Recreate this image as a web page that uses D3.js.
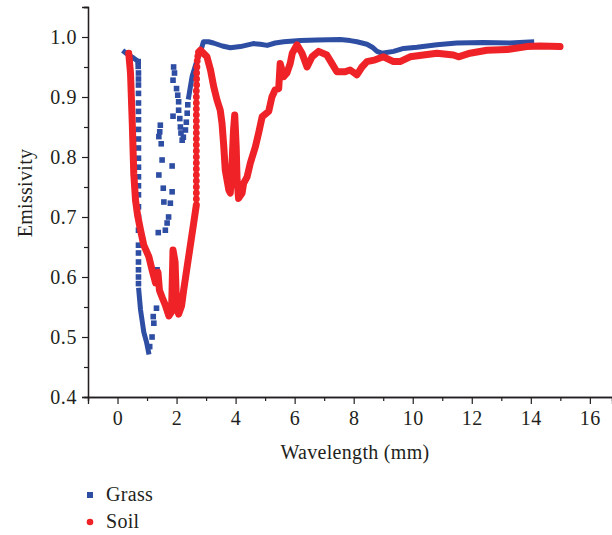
<!DOCTYPE html>
<html>
<head>
<meta charset="utf-8">
<script src="https://cdn.jsdelivr.net/npm/d3@7"></script>
<style>
  body { margin: 0; background: #fff; }
  text { font-family: "Liberation Serif", "DejaVu Serif", serif; fill: #231f20; }
</style>
</head>
<body>
<div id="chart"></div>
<script>
// Values (wavelength in mm, emissivity)
// Grass: dense part of the trace (null = break in the line)
const grassTraceX = [0.24, 0.37, 0.54, 0.68, null, 0.72, 0.78, 0.84, 0.89, 0.98, 1.05, null,
    2.41, 2.53, 2.70, 2.81, 2.91, 3.08, 3.25, 3.55, 3.82, 4.16, 4.60, 4.84, 5.07, 5.34, 5.63, 6.19,
    6.76, 7.54, 7.88, 8.11, 8.45, 8.63, 8.79, 8.95, 9.35, 9.69, 10.14, 10.82, 11.49, 12.39, 13.29, 14.03];
const grassTraceY = [0.975, 0.970, 0.965, 0.960, null, 0.578, 0.545, 0.525, 0.508, 0.492, 0.475, null,
    0.900, 0.935, 0.962, 0.975, 0.992, 0.992, 0.990, 0.985, 0.982, 0.984, 0.989, 0.988, 0.986, 0.990, 0.992, 0.994,
    0.995, 0.996, 0.994, 0.992, 0.988, 0.983, 0.976, 0.973, 0.976, 0.981, 0.983, 0.987, 0.990, 0.991, 0.990, 0.992];

// Grass: isolated square markers
const grassDotX = [0.70, 0.70, 0.71, 0.71, 0.71, 0.71, 0.71, 0.71, 0.71, 0.71, 0.71, 0.71, 0.71,
    0.71, 0.71, 0.71, 0.71, 0.71, 0.71, 0.71, 0.71, 0.71, 0.71, 0.71, 0.71, 0.71,
    1.09, 1.17, 1.23, 1.21, 1.32, 1.34, 1.38, 1.62, 1.68, 1.73, 1.57, 1.79, 1.85,
    1.45, 1.43, 1.40, 1.48, 1.51, 1.40, 1.85, 1.55,
    1.90, 1.93, 1.88, 2.00, 2.04, 2.07, 2.07, 1.88, 2.11, 2.13, 2.15, 2.19,
    2.23, 2.30, 2.33, 2.36, 2.38];
const grassDotY = [0.959, 0.951, 0.940, 0.930, 0.920, 0.906, 0.890, 0.876, 0.862, 0.846, 0.830, 0.815, 0.798,
    0.783, 0.767, 0.752, 0.737, 0.717, 0.700, 0.678, 0.653, 0.640, 0.625, 0.612, 0.600, 0.589,
    0.484, 0.500, 0.523, 0.534, 0.548, 0.612, 0.674, 0.678, 0.690, 0.700, 0.725, 0.723, 0.742,
    0.853, 0.842, 0.834, 0.822, 0.795, 0.770, 0.785, 0.748,
    0.950, 0.940, 0.928, 0.914, 0.903, 0.892, 0.878, 0.868, 0.864, 0.850, 0.840, 0.828,
    0.833, 0.845, 0.858, 0.873, 0.887];

// Soil: dense trace
const soilTraceX = [0.38, 0.44, 0.50, 0.55, 0.61, 0.68, 0.78, 0.89, 1.06, 1.17, 1.29, 1.37, 1.42, 1.52,
    1.62, 1.74, 1.83, 1.88, 1.95, 2.00, 2.07, 2.17, 2.24, 2.41, 2.58, 2.67, null,
    2.75, 2.81, 3.03, 3.15, 3.26, 3.37, 3.48, 3.54, 3.60, 3.65, 3.77, 3.82, 3.88, 3.93, 3.97, 4.02,
    4.05, 4.10, 4.22, 4.27, 4.39, 4.50, 4.67, 4.78, 4.90, 5.12, 5.23, 5.34, 5.46, 5.51, 5.63, 5.74,
    5.85, 5.92, 6.08, 6.25, 6.42, 6.59, 6.81, 7.09, 7.26, 7.43, 7.71, 7.88, 8.11, 8.28, 8.45, 8.73,
    9.01, 9.35, 9.57, 9.91, 10.36, 10.82, 11.38, 11.55, 11.94, 12.51, 13.18, 13.86, 14.31, 14.99];
const soilTraceY = [0.973, 0.940, 0.856, 0.773, 0.728, 0.703, 0.678, 0.653, 0.634, 0.612, 0.590, 0.608, 0.578, 0.565,
    0.553, 0.535, 0.542, 0.645, 0.625, 0.553, 0.538, 0.552, 0.578, 0.634, 0.690, 0.720, null,
    0.975, 0.978, 0.967, 0.945, 0.917, 0.895, 0.878, 0.856, 0.817, 0.778, 0.745, 0.740, 0.790, 0.845, 0.870, 0.817,
    0.762, 0.731, 0.740, 0.756, 0.767, 0.790, 0.817, 0.840, 0.867, 0.876, 0.900, 0.912, 0.914, 0.956, 0.934, 0.940,
    0.956, 0.973, 0.987, 0.973, 0.950, 0.967, 0.976, 0.970, 0.956, 0.942, 0.942, 0.945, 0.937, 0.950, 0.959, 0.962,
    0.967, 0.959, 0.959, 0.967, 0.970, 0.973, 0.970, 0.967, 0.973, 0.978, 0.979, 0.984, 0.985, 0.984];

// Soil: separate round markers on the steep rise near 2.7 mm
const soilDotX = [2.67, 2.67, 2.67, 2.67, 2.67, 2.67, 2.67, 2.67, 2.67, 2.67, 2.67, 2.67, 2.67,
    2.67, 2.67, 2.67, 2.67, 2.67, 2.67, 2.68, 2.68, 2.68, 2.69, 2.70, 2.72];
const soilDotY = [0.730, 0.740, 0.750, 0.760, 0.770, 0.780, 0.790, 0.800, 0.810, 0.820, 0.830, 0.840, 0.850,
    0.860, 0.870, 0.880, 0.890, 0.900, 0.910, 0.920, 0.930, 0.940, 0.950, 0.960, 0.968];

const xMajor = [0, 2, 4, 6, 8, 10, 12, 14, 16];
const xMinor = [-1, 1, 3, 5, 7, 9, 11, 13, 15];
const yMajor = [0.4, 0.5, 0.6, 0.7, 0.8, 0.9, 1.0];
const yMinor = [0.45, 0.55, 0.65, 0.75, 0.85, 0.95, 1.05];
const seriesNames = ["Grass", "Soil"];

const blue = "#2e4ea3", red = "#ee2227";

const W = 612, H = 535;
const margin = {top: 7, right: 0, bottom: 138, left: 88},
      width = W - margin.left - margin.right,
      height = H - margin.top - margin.bottom;

const svg = d3.select("#chart").append("svg")
    .attr("width", W).attr("height", H);
const g = svg.append("g").attr("transform", `translate(${margin.left},${margin.top})`);

const x = d3.scaleLinear().domain([-1, 16.75]).range([0, width]);
const y = d3.scaleLinear().domain([0.4, 1.05]).range([height, 0]);

// axes
g.append("g").attr("transform", `translate(0,${height})`)
    .call(d3.axisBottom(x).tickValues(xMajor).tickSize(7).tickPadding(7).tickFormat(d3.format("d")));
g.append("g").attr("transform", `translate(0,${height})`)
    .call(d3.axisBottom(x).tickValues(xMinor).tickSize(4).tickFormat(""));
g.append("g")
    .call(d3.axisLeft(y).tickValues(yMajor).tickSize(6).tickPadding(5).tickFormat(d3.format(".1f")));
g.append("g").call(d3.axisLeft(y).tickValues(yMinor).tickSize(4).tickFormat(""));

g.selectAll(".domain").attr("stroke", "#231f20").attr("stroke-width", 1.3);
g.selectAll(".tick line").attr("stroke", "#231f20").attr("stroke-width", 1.2);
g.selectAll(".tick text").attr("font-size", 20).attr("fill", "#231f20")
    .style("font-family", "'Liberation Serif', serif").style("letter-spacing", "0.6px");

// axis titles
svg.append("text")
    .attr("x", 355).attr("y", 459)
    .attr("text-anchor", "middle").attr("font-size", 20)
    .style("letter-spacing", "0.3px")
    .text("Wavelength (mm)");
svg.append("text")
    .attr("transform", "rotate(-90)")
    .attr("x", -193).attr("y", 32)
    .attr("text-anchor", "middle").attr("font-size", 20)
    .style("letter-spacing", "0.3px")
    .text("Emissivity");

const zip = (xs, ys) => xs.map((d, i) => [d, ys[i]]);

const line = d3.line()
    .defined(d => d[0] !== null && d[1] !== null)
    .x(d => x(d[0])).y(d => y(d[1]));

// grass
g.append("path").datum(zip(grassTraceX, grassTraceY))
    .attr("fill", "none").attr("stroke", blue)
    .attr("stroke-width", 5).attr("stroke-linejoin", "round").attr("stroke-linecap", "square")
    .attr("d", line);
g.selectAll(".gdot").data(zip(grassDotX, grassDotY)).enter().append("rect")
    .attr("class", "gdot")
    .attr("x", d => x(d[0]) - 2.8).attr("y", d => y(d[1]) - 2.8)
    .attr("width", 5.6).attr("height", 5.6)
    .attr("fill", blue);

// soil
g.append("path").datum(zip(soilTraceX, soilTraceY))
    .attr("fill", "none").attr("stroke", red)
    .attr("stroke-width", 7).attr("stroke-linejoin", "round").attr("stroke-linecap", "round")
    .attr("d", line);
g.selectAll(".sdot").data(zip(soilDotX, soilDotY)).enter().append("circle")
    .attr("class", "sdot")
    .attr("cx", d => x(d[0])).attr("cy", d => y(d[1]))
    .attr("r", 3.4)
    .attr("fill", red);

// legend
const legend = svg.append("g").attr("transform", "translate(90,495)");
legend.append("rect").attr("x", -3).attr("y", -3).attr("width", 6).attr("height", 6).attr("fill", blue);
legend.append("circle").attr("cx", 0).attr("cy", 27).attr("r", 3.3).attr("fill", red);
seriesNames.forEach((name, i) => {
    legend.append("text")
        .attr("x", 16).attr("y", i * 27 + 6)
        .attr("font-size", 20)
        .style("letter-spacing", "0.3px")
        .text(name);
});
</script>
</body>
</html>
